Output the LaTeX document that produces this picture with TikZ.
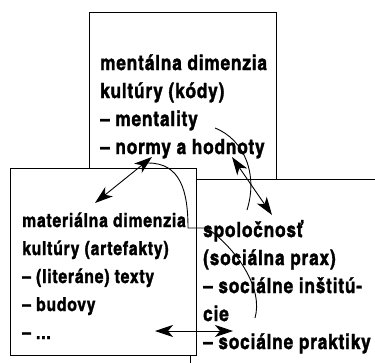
\documentclass[tikz,border=0pt]{standalone}
\usepackage{fontspec}
\setmainfont{texgyreheroscn-bold.otf}[LetterSpace=4, FakeBold=1.5]
\usetikzlibrary{arrows.meta}
\newcommand\boxlines[1]{\begin{tabular}[t]{@{}l@{}}#1\end{tabular}}
\tikzset{
  panel/.style={draw, line width=1.3pt, fill=white, inner sep=0pt, anchor=north west},
  txt/.style={anchor=base west, inner sep=0pt, font=\fontsize{21}{28}\selectfont},
  smalltxt/.style={txt, font=\fontsize{19.2}{28}\selectfont},
  link/.style={line width=0.9pt},
  dbl/.style={link, {Stealth[length=18pt,width=12pt,inset=5pt]}-{Stealth[length=18pt,width=12pt,inset=5pt]}},
}
\begin{document}
\begin{tikzpicture}[x=1pt,y=-1pt]
\useasboundingbox (0,0) rectangle (375,362);
\clip (0,0) rectangle (375,362);
% panels
\node[panel, minimum width=187pt, minimum height=200pt] (mentalbox) at (89,12) {};
\node[panel, minimum width=250pt, minimum height=250pt] (socialbox) at (190,179) {};
\node[panel, minimum width=186pt, minimum height=187pt] (materialbox) at (10,168) {};
% texts
\node[txt] (mentaltext) at (100,70) {\boxlines{mentálna dimenzia\\kultúry (kódy)\\– mentality\\– normy a hodnoty}};
\node[smalltxt] (materialtext) at (22,227) {\boxlines{materiálna dimenzia\\kultúry (artefakty)\\– (literáne) texty\\– budovy\\– ...}};
\node[txt] (socialtext) at (203,237) {\boxlines{spoločnosť\\(sociálna prax)\\– sociálne inštitú-\\cie\\– sociálne praktiky}};
% connector end points
\coordinate (a1s) at (95,203);
\coordinate (a1e) at (152,157);
\coordinate (c1s) at (148,163);
\coordinate (c1k) at (188,228);
\coordinate (c1h) at (207,228);
\coordinate (c1e) at (255,318);
\coordinate (a3s) at (232,157);
\coordinate (a3e) at (272,215);
\coordinate (c2s) at (215,128);
\coordinate (c2e) at (247,210);
\coordinate (a5s) at (155,331);
\coordinate (a5e) at (233,331);
% connectors
\draw[dbl] (a1s) -- (a1e);
\draw[link] (c1s) .. controls (180,163) and (188,190) .. (c1k) -- (c1h) .. controls (240,252) and (263,290) .. (c1e);
\draw[dbl] (a3s) -- (a3e);
\draw[link] (c2s) .. controls (245,140) and (258,175) .. (c2e);
\draw[dbl] (a5s) -- (a5e);
\end{tikzpicture}
\end{document}
